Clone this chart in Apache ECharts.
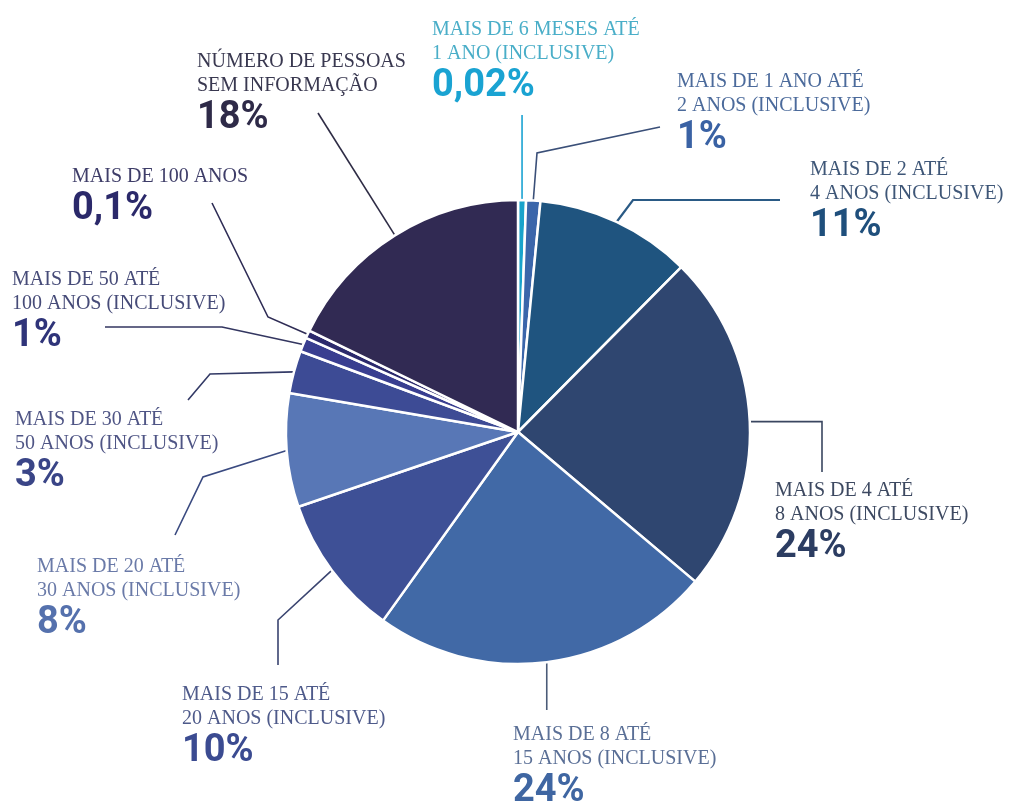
<!DOCTYPE html>
<html>
<head>
<meta charset="utf-8">
<style>
  html, body { margin: 0; padding: 0; background: #ffffff; }
  #chart { width: 1010px; height: 805px; }
</style>
<script src="https://cdn.jsdelivr.net/npm/echarts@6/dist/echarts.min.js"></script>
</head>
<body>
<div id="chart"></div>
<script>
// Category labels (two text lines each, except "MAIS DE 100 ANOS")
const categories = [
  ['MAIS DE 6 MESES ATÉ', '1 ANO (INCLUSIVE)'],
  ['MAIS DE 1 ANO ATÉ', '2 ANOS (INCLUSIVE)'],
  ['MAIS DE 2 ATÉ', '4 ANOS (INCLUSIVE)'],
  ['MAIS DE 4 ATÉ', '8 ANOS (INCLUSIVE)'],
  ['MAIS DE 8 ATÉ', '15 ANOS (INCLUSIVE)'],
  ['MAIS DE 15 ATÉ', '20 ANOS (INCLUSIVE)'],
  ['MAIS DE 20 ATÉ', '30 ANOS (INCLUSIVE)'],
  ['MAIS DE 30 ATÉ', '50 ANOS (INCLUSIVE)'],
  ['MAIS DE 50 ATÉ', '100 ANOS (INCLUSIVE)'],
  ['MAIS DE 100 ANOS'],
  ['NÚMERO DE PESSOAS', 'SEM INFORMAÇÃO']
];

// Share of people per duration range (%)
const values = [0.02, 1, 11, 24, 24, 10, 8, 3, 1, 0.1, 18];

// Slice, percentage, caption and leader-line colours
const sliceColors = ['#18a3cb', '#3b66aa', '#1f547f', '#2f4670', '#4169a6', '#3e5096',
                     '#5877b6', '#3d4b95', '#393e90', '#2c2a6c', '#312a53'];
const pctColors   = ['#1aa3d2', '#3a62a4', '#1f4f7c', '#2c3d62', '#3f66a2', '#3b4b91',
                     '#5571ad', '#3a4587', '#2f3479', '#2b296a', '#2e2a48'];
const textColors  = ['#4aaec8', '#4b6a9b', '#3e5677', '#3d4961', '#5a6f96', '#4e5a8a',
                     '#6a7aa8', '#4f5585', '#464b78', '#3e3d68', '#393850'];
const lineColors  = ['#1aa3d2', '#3a4f78', '#2a5a85', '#3a4660', '#4b5b78', '#3a4470',
                     '#3a4a80', '#333a66', '#333660', '#2e2c55', '#2e2c45'];

// Caption anchor points (top-left of each caption block)
const labelPos = [
  [432, 18], [677, 70], [810, 158], [775, 479], [513, 723], [182, 683],
  [37, 555], [15, 408], [12, 268], [72, 165], [197, 50]
];

// Leader-line bends after leaving the slice edge (null = keep previous coordinate)
const guideRoutes = [
  [[null, 115]],
  [[537, 153], [660, 127]],
  [[633, 200], [780, 200]],
  [[822, null], [822, 472]],
  [[null, 710]],
  [[278, 620], [278, 665]],
  [[203, 477], [175, 535]],
  [[210, 374], [188, 400]],
  [[222, 327], [105, 327]],
  [[268, 317], [212, 203]],
  [[318, 113]]
];

function pctText(v) {
  return String(v).replace('.', ',') + '%';
}

const data = values.map((v, i) => ({
  name: categories[i].join(' '),
  value: v,
  itemStyle: { color: sliceColors[i] },
  label: {
    formatter: categories[i].map(l => '{t' + i + '|' + l + '}').join('\n') + '\n{p' + i + '|' + pctText(v) + '}'
  },
  labelLine: { lineStyle: { color: lineColors[i], width: i === 2 ? 2.2 : 1.6 } }
}));

const rich = {};
values.forEach((v, i) => {
  rich['t' + i] = {
    fontFamily: '"Liberation Serif", "DejaVu Serif", serif',
    fontSize: 20,
    lineHeight: 24,
    color: textColors[i]
  };
  rich['p' + i] = {
    fontFamily: 'Roboto, "Liberation Sans", sans-serif',
    fontWeight: 'bold',
    fontSize: 38,
    lineHeight: 40,
    color: pctColors[i]
  };
});

const chart = echarts.init(document.getElementById('chart'), null, { renderer: 'canvas' });
chart.setOption({
  backgroundColor: '#ffffff',
  animation: false,
  series: [{
    type: 'pie',
    center: [518, 432],
    radius: [0, 232],
    startAngle: 90,
    clockwise: true,
    minAngle: 2,
    avoidLabelOverlap: false,
    data: data,
    itemStyle: { borderColor: '#ffffff', borderWidth: 2.5 },
    label: {
      show: true,
      position: 'outside',
      align: 'left',
      rich: rich
    },
    labelLine: {
      show: true,
      length: 18,
      length2: 30,
      smooth: false
    },
    labelLayout: function (params) {
      const i = params.dataIndex;
      const p = labelPos[i];
      const start = params.labelLinePoints ? params.labelLinePoints[0] : null;
      const out = { x: p[0], y: p[1], align: 'left', verticalAlign: 'top' };
      if (start) {
        const pts = [[start[0], start[1]]];
        guideRoutes[i].forEach(b => {
          const prev = pts[pts.length - 1];
          pts.push([b[0] == null ? prev[0] : b[0], b[1] == null ? prev[1] : b[1]]);
        });
        out.labelLinePoints = pts;
      }
      return out;
    },
    emphasis: { disabled: true }
  }]
});
</script>
</body>
</html>
